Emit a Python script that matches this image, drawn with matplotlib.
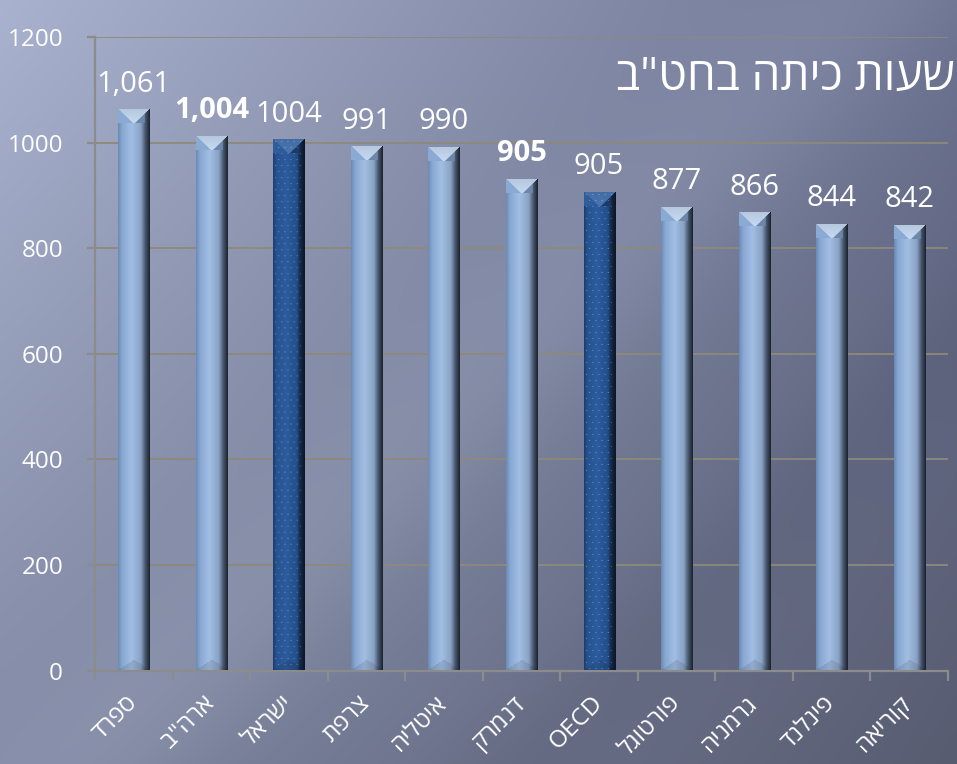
import numpy as np
import matplotlib.pyplot as plt
from matplotlib.colors import to_rgb

# נתונים - שעות כיתה בחט"ב
countries = ['ספרד', 'ארה"ב', 'ישראל', 'צרפת', 'איטליה', 'דנמרק', 'OECD', 'פורטוגל', 'גרמניה', 'פינלנד', 'קוריאה']
hours = [1061, 1011, 1004, 991, 990, 929, 905, 877, 866, 844, 842]
value_labels = ['1,061', '1,004', '1004', '991', '990', '905', '905', '877', '866', '844', '842']
bold_index = [1, 5]
highlight = ['ישראל', 'OECD']
title = 'שעות כיתה בחט"ב'
yticks = [0, 200, 400, 600, 800, 1000, 1200]

plt.rcParams['font.family'] = ['Open Sans', 'DejaVu Sans']


def visual(s):
    # matplotlib has no bidi support, so hebrew goes in reversed
    return s if s.isascii() else s[::-1]


W, H = 957, 764
fig = plt.figure(figsize=(W / 100, H / 100), dpi=100)

# background gradient
bg = fig.add_axes([0, 0, 1, 1])
bg.axis('off')
yy, xx = np.mgrid[0:1:H * 1j, 0:1:W * 1j]
tl, tr = np.array(to_rgb('#a9b2ce')), np.array(to_rgb('#6b7290'))
bl, br = np.array(to_rgb('#8189a4')), np.array(to_rgb('#575c71'))
img = ((1 - xx) * (1 - yy))[..., None] * tl + (xx * (1 - yy))[..., None] * tr \
    + ((1 - xx) * yy)[..., None] * bl + (xx * yy)[..., None] * br
d = xx * 0.55 + yy * 0.45
band = np.exp(-((d - 0.5) / 0.07) ** 2) * 0.04 - np.exp(-((d - 0.75) / 0.05) ** 2) * 0.02
img = np.clip(img + band[..., None], 0, 1)
bg.imshow(img, extent=(0, 1, 0, 1), aspect='auto', zorder=0)
bg.set_xlim(0, 1)
bg.set_ylim(0, 1)

ax = fig.add_axes([95 / W, (H - 670.5) / H, (948 - 95) / W, (670.5 - 37) / H])
ax.patch.set_alpha(0)
x = np.arange(len(countries))
ax.set_xlim(-0.5, len(countries) - 0.5)
ax.set_ylim(0, 1200)

bars = ax.bar(x, hours, width=0.4, color='none', zorder=2)

grid_c = '#8e8979'
ax.set_yticks(yticks)
ax.yaxis.grid(True, color=grid_c, lw=1.3)
ax.set_axisbelow(True)
for s in ['top', 'right']:
    ax.spines[s].set_visible(False)
for s in ['left', 'bottom']:
    ax.spines[s].set_color('#8c8c8c')
    ax.spines[s].set_linewidth(1.6)
ax.tick_params(axis='y', colors='#8c8c8c', labelcolor='white', labelsize=17.5, length=6, width=1.6, pad=17)
ax.set_xticks(x)
ax.set_xticklabels([visual(c) for c in countries], rotation=45, ha='right', va='center',
                   rotation_mode='anchor', color='white', fontsize=17.5)
ax.tick_params(axis='x', which='major', length=0, pad=21)
ax.set_xticks(np.arange(len(countries) + 1) - 0.5, minor=True)
ax.tick_params(axis='x', which='minor', length=7, width=1.6, colors='#8c8c8c')


def bar_image(wp, hp, dark):
    f = np.linspace(0, 1, wp)
    if dark:
        pos = [0, 0.1, 0.4, 0.75, 0.86, 1]
        cols = ['#1d3f72', '#27538f', '#2c5c9e', '#244f8a', '#15294a', '#0d1626']
        top_c, lf_c, rf_c = '#4a76b2', '#2f5d9a', '#1d3a66'
    else:
        pos = [0, 0.12, 0.42, 0.72, 0.86, 1]
        cols = ['#6d8cb6', '#88a8d2', '#a2bee4', '#8aa3c6', '#4a5a72', '#1e2631']
        top_c, lf_c, rf_c = '#c6daf2', '#8aaad4', '#6d87aa'
    cols = np.array([to_rgb(c) for c in cols])
    row = np.stack([np.interp(f, pos, cols[:, k]) for k in range(3)], axis=-1)
    im = np.repeat(row[None], hp, axis=0)
    cap = min(14, hp // 2)
    r = np.arange(hp)[:, None]
    depth = cap * (1 - 2 * np.abs(f - 0.5))[None, :]
    top = r < depth
    left = (r < cap) & ~top & (f[None, :] < 0.5)
    right = (r < cap) & ~top & (f[None, :] >= 0.5) & (f[None, :] < 0.86)
    tc = np.array(to_rgb(top_c))
    im = np.where(top[..., None], tc * (0.92 + 0.08 * r[..., None] / max(cap, 1)), im)
    im = np.where(left[..., None], np.array(to_rgb(lf_c)), im)
    im = np.where(right[..., None], np.array(to_rgb(rf_c)), im)
    # bottom bevel
    rb = hp - 1 - r
    bdepth = 10 * (1 - 2 * np.abs(f - 0.5))[None, :]
    bot = rb < bdepth
    im = np.where(bot[..., None], im * 0.9, im)
    if dark:
        ys, xs = np.mgrid[0:hp, 0:wp]
        dots = (ys % 6 == 2) & ((xs + (ys // 6) * 3) % 6 == 2) & (xs > 1) & (xs < wp - 4)
        im = np.where(dots[..., None], np.clip(im + 0.22, 0, 1), im)
    return np.clip(im, 0, 1)


fig.canvas.draw()
for i, b in enumerate(bars):
    x0, y0 = b.get_x(), 0
    x1, y1 = b.get_x() + b.get_width(), b.get_height()
    p0 = ax.transData.transform((x0, y0))
    p1 = ax.transData.transform((x1, y1))
    wp, hp = int(round(p1[0] - p0[0])), int(round(p1[1] - p0[1]))
    im = bar_image(wp, hp, countries[i] in highlight)
    ax.imshow(im, extent=(x0, x1, y0, y1), aspect='auto', interpolation='bilinear', zorder=3)
    ax.annotate(value_labels[i], (b.get_x() + b.get_width() / 2, y1), xytext=(0, 13.5),
                textcoords='offset points', ha='center', va='baseline', color='white',
                fontsize=21, fontweight='bold' if i in bold_index else 'normal', zorder=4)
ax.set_xlim(-0.5, len(countries) - 0.5)
ax.set_ylim(0, 1200)

fig.text(955 / W, 1 - 78 / H, visual(title), ha='right', va='center', color='white', fontsize=33)

fig.savefig('out.png', dpi=100)
